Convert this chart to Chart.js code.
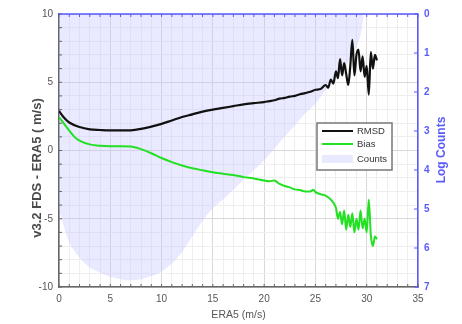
<!DOCTYPE html>
<html>
<head>
<meta charset="utf-8">
<script src="https://cdn.jsdelivr.net/npm/chart.js@4.4.1/dist/chart.umd.min.js"></script>
<style>
html,body{margin:0;padding:0;background:#fff;}
#wrap{width:462px;height:324px;}
</style>
</head>
<body>
<div id="wrap"><canvas id="c" width="462" height="324"></canvas></div>
<script>
// ---- data ----
const rmsdX = [0, 0.5, 1, 2, 3, 4, 5, 6, 7, 8, 9, 10, 11, 12, 13, 14, 15, 16, 17, 18, 19, 20, 20.5, 21, 21.5, 22, 22.5, 23, 23.5, 24, 24.5, 25, 25.5, 26,
  26.25, 26.5, 26.75, 27, 27.2, 27.4, 27.6, 27.8, 28, 28.2, 28.4, 28.6, 28.8, 29, 29.2, 29.4, 29.6, 29.8, 30, 30.2, 30.4, 30.6, 30.8, 31];
const rmsdY = [2.9, 2.4, 2.05, 1.72, 1.55, 1.5, 1.47, 1.47, 1.48, 1.58, 1.75, 1.95, 2.2, 2.45, 2.65, 2.85, 3.0, 3.12, 3.25, 3.38, 3.47, 3.55, 3.62, 3.68, 3.8, 3.85, 3.95, 4.0, 4.12, 4.2, 4.3, 4.45, 4.5, 4.8,
  4.6, 5.2, 4.9, 5.8, 5.3, 6.7, 5.5, 6.4, 5.6, 4.8, 6.2, 8.1, 5.5, 7.0, 7.4, 5.8, 6.9, 5.4, 6.2, 4.1, 7.2, 6.0, 7.0, 6.6];

const biasX = [0, 0.5, 1, 1.5, 2, 3, 4, 5, 6, 7, 8, 9, 10, 11, 12, 13, 14, 15, 16, 17, 18, 19, 20, 20.5, 21, 21.5, 22, 22.5, 23, 23.5, 24, 24.5, 24.8, 25, 25.5, 26, 26.5, 27,
  27.2, 27.4, 27.6, 27.8, 28, 28.2, 28.4, 28.6, 28.8, 29, 29.2, 29.4, 29.6, 29.8, 30, 30.2, 30.4, 30.6, 30.8, 31];
const biasY = [2.45, 1.95, 1.45, 1.0, 0.72, 0.45, 0.35, 0.32, 0.32, 0.3, 0.1, -0.2, -0.55, -0.85, -1.1, -1.3, -1.45, -1.6, -1.7, -1.8, -1.95, -2.05, -2.2, -2.25, -2.2, -2.45, -2.6, -2.7, -2.85, -2.9, -3.0, -3.0, -2.88, -3.05, -3.2, -3.3, -3.6, -4.2,
  -5.0, -4.5, -5.4, -4.4, -5.8, -4.7, -5.6, -4.6, -6.0, -5.0, -5.8, -4.4, -5.7, -5.0, -6.0, -3.6, -6.2, -7.0, -6.3, -6.5];

const countsX = [0, 0.3, 0.9, 1.5, 2.2, 3, 4, 5, 6, 7, 8, 9, 10, 11, 12, 13, 14, 15, 16, 17, 18, 19, 20, 21, 22, 23, 24, 25, 26, 27, 28, 29, 29.5, 29.7];
const logCounts = [5.0, 5.28, 5.8, 6.08, 6.3, 6.5, 6.63, 6.74, 6.8, 6.83, 6.8, 6.72, 6.6, 6.4, 6.1, 5.7, 5.3, 4.98, 4.75, 4.5, 4.25, 4.0, 3.75, 3.45, 3.15, 2.85, 2.55, 2.3, 1.95, 1.65, 1.3, 0.85, 0.4, 0];

const xTicksMajor = [0, 5, 10, 15, 20, 25, 30, 35];
const yTicksMajor = [-10, -5, 0, 5, 10];
const y2Ticks = [0, 1, 2, 3, 4, 5, 6, 7];

const labels = { rmsd: 'RMSD', bias: 'Bias', counts: 'Counts',
  xTitle: 'ERA5 (m/s)', yTitle: 'v3.2 FDS - ERA5 ( m/s)', y2Title: 'Log Counts' };

const pts = (xs, ys) => xs.map((x, i) => ({ x: x, y: ys[i] }));

const BLUE = '#5a5aff';
const FONT = "'Liberation Sans', Arial, sans-serif";

const gridColor = (ctx) => (ctx.tick && ctx.tick.value % 5 === 0) ? '#d9d9d9' : '#eeeeee';

const decor = {
  id: 'decor',
  afterDraw(chart) {
    const { ctx, chartArea: a, scales } = chart;
    ctx.save();
    // inward ticks
    ctx.lineWidth = 1;
    ctx.strokeStyle = '#666';
    for (let v = 0; v <= 35; v++) {
      const px = scales.x.getPixelForValue(v);
      ctx.beginPath(); ctx.moveTo(px, a.bottom); ctx.lineTo(px, a.bottom - 3); ctx.stroke();
    }
    for (let v = -10; v <= 10; v++) {
      const py = scales.y.getPixelForValue(v);
      ctx.beginPath(); ctx.moveTo(a.left, py); ctx.lineTo(a.left + 3, py); ctx.stroke();
    }
    ctx.strokeStyle = BLUE;
    for (let v = 0; v <= 35; v++) {
      const px = scales.x.getPixelForValue(v);
      ctx.beginPath(); ctx.moveTo(px, a.top); ctx.lineTo(px, a.top + 3); ctx.stroke();
    }
    y2Ticks.forEach(v => {
      const py = scales.y2.getPixelForValue(v);
      ctx.beginPath(); ctx.moveTo(a.right, py); ctx.lineTo(a.right - 4, py); ctx.stroke();
    });
    // top border
    ctx.lineWidth = 1.5;
    ctx.beginPath(); ctx.moveTo(a.left, a.top); ctx.lineTo(a.right, a.top); ctx.stroke();

    // y titles
    ctx.fillStyle = '#4a4a4a';
    ctx.font = 'bold 13px ' + FONT;
    ctx.textAlign = 'center'; ctx.textBaseline = 'middle';
    ctx.translate(37, 168); ctx.rotate(-Math.PI / 2);
    ctx.fillText(labels.yTitle, 0, 0);
    ctx.setTransform(1, 0, 0, 1, 0, 0);
    ctx.fillStyle = BLUE;
    ctx.font = 'bold 12px ' + FONT;
    ctx.translate(442, 150); ctx.rotate(-Math.PI / 2);
    ctx.fillText(labels.y2Title, 0, 0);
    ctx.setTransform(1, 0, 0, 1, 0, 0);

    // legend
    const bx = a.left + 258, by = a.top + 109, bw = 75, bh = 47;
    ctx.fillStyle = '#fff';
    ctx.fillRect(bx, by, bw, bh);
    ctx.strokeStyle = '#777'; ctx.lineWidth = 1.5;
    ctx.strokeRect(bx, by, bw, bh);
    ctx.font = '9.5px ' + FONT;
    ctx.textAlign = 'left'; ctx.textBaseline = 'middle';
    const ds = chart.data.datasets;
    const rows = [8, 21, 36];
    ds.forEach((d, i) => {
      const ry = by + rows[i];
      if (d.fill) {
        ctx.fillStyle = d.backgroundColor;
        ctx.fillRect(bx + 5, ry - 4, 31, 8);
      } else {
        ctx.strokeStyle = d.borderColor; ctx.lineWidth = 2;
        ctx.beginPath(); ctx.moveTo(bx + 5, ry); ctx.lineTo(bx + 36, ry); ctx.stroke();
      }
      ctx.fillStyle = '#333';
      ctx.fillText(d.label, bx + 40, ry);
    });
    ctx.restore();
  }
};

new Chart(document.getElementById('c'), {
  type: 'line',
  data: {
    datasets: [
      { label: labels.rmsd, data: pts(rmsdX, rmsdY), yAxisID: 'y', borderColor: '#111', borderWidth: 2.2,
        pointRadius: 0, fill: false, cubicInterpolationMode: 'monotone', order: 1 },
      { label: labels.bias, data: pts(biasX, biasY), yAxisID: 'y', borderColor: '#22e022', borderWidth: 2,
        pointRadius: 0, fill: false, cubicInterpolationMode: 'monotone', order: 2 },
      { label: labels.counts, data: pts(countsX, logCounts), yAxisID: 'y2', borderWidth: 0, borderColor: 'rgba(0,0,0,0)',
        backgroundColor: 'rgba(190,190,255,0.34)', pointRadius: 0, fill: { value: 0 },
        cubicInterpolationMode: 'monotone', order: 3 }
    ]
  },
  options: {
    responsive: false,
    animation: false,
    layout: { padding: { top: 14, left: 0, right: 0, bottom: 0 } },
    plugins: { legend: { display: false }, tooltip: { enabled: false } },
    scales: {
      x: {
        type: 'linear', min: 0, max: 35,
        afterBuildTicks: (s) => { s.ticks = Array.from({ length: 36 }, (_, i) => ({ value: i })); },
        afterFit: (s) => { s.height = 37; },
        ticks: { autoSkip: false, maxRotation: 0, padding: 6, color: '#555', font: { family: FONT, size: 10 },
          callback: (v) => xTicksMajor.includes(v) ? String(v) : '' },
        grid: { color: gridColor, drawTicks: false },
        border: { color: '#666', width: 1.5 },
        title: { display: true, text: labels.xTitle, color: '#555', font: { family: FONT, size: 10.5 }, padding: { top: 0, bottom: 3 } }
      },
      y: {
        position: 'left', min: -10, max: 10,
        afterBuildTicks: (s) => { s.ticks = Array.from({ length: 21 }, (_, i) => ({ value: i - 10 })); },
        afterFit: (s) => { s.width = 59; },
        ticks: { autoSkip: false, padding: 6, color: '#555', font: { family: FONT, size: 10 },
          callback: (v) => yTicksMajor.includes(v) ? String(v) : '' },
        grid: { color: gridColor, drawTicks: false },
        border: { color: '#666', width: 1.5 }
      },
      y2: {
        position: 'right', min: 0, max: 7, reverse: true,
        afterBuildTicks: (s) => { s.ticks = y2Ticks.map(v => ({ value: v })); },
        afterFit: (s) => { s.width = 44; },
        ticks: { autoSkip: false, padding: 6, color: BLUE, font: { family: FONT, size: 10, weight: 'bold' } },
        grid: { drawOnChartArea: false, drawTicks: false },
        border: { color: BLUE, width: 1.5 }
      }
    }
  },
  plugins: [decor]
});
</script>
</body>
</html>
